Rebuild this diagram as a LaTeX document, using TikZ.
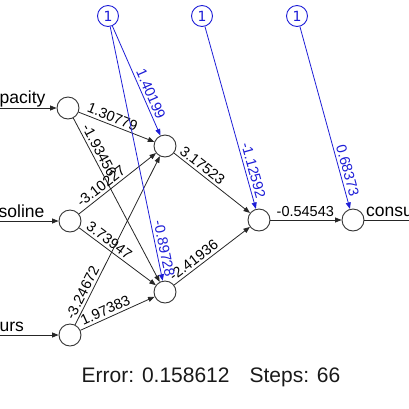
\documentclass[tikz,border=0pt]{standalone}
\usepackage{fontspec}
\setmainfont{Liberation Sans}
\newfontfamily\biasfont{DejaVu Sans}
\usetikzlibrary{arrows.meta, positioning}
\definecolor{biasBlue}{RGB}{30,30,215}

\begin{document}
\begin{tikzpicture}[x=1pt, y=-1pt,
    neuron/.style={circle, draw=black!80, line width=0.9pt, minimum size=22pt, inner sep=0pt},
    biasNode/.style={circle, draw=biasBlue, text=biasBlue, line width=0.9pt, minimum size=21pt, inner sep=0pt, font=\biasfont\fontsize{14}{14}\selectfont},
    weight/.style={-{Triangle[length=6.5pt, width=5pt]}, draw=black!85, line width=0.8pt},
    biasWeight/.style={-{Triangle[length=6.5pt, width=5pt]}, draw=biasBlue, line width=0.8pt},
    wlabel/.style={sloped, above, inner sep=2.5pt, font=\fontsize{14.5}{14.5}\selectfont},
    ioLabel/.style={anchor=base west, inner sep=0pt, font=\fontsize{17.5}{17.5}\selectfont}]
  \useasboundingbox (0,0) rectangle (409,408);
  \clip (0,0) rectangle (409,408);

  % neurons
  \node [neuron] (inCap) at (68,108) {};
  \node [neuron] (inGas) at (70,221) {};
  \node [neuron] (inHours) at (70,335) {};
  \node [neuron] (hidTop) at (165,146) {};
  \node [neuron] (hidBot) at (165,292) {};
  \node [neuron] (hidTwo) at (259,220) {};
  \node [neuron] (outNode) at (353,220) {};

  % bias units
  \node [biasNode] (biasOne) at (108,16) {1};
  \node [biasNode] (biasTwo) at (202,16) {1};
  \node [biasNode] (biasThree) at (297,16) {1};

  % inputs and output
  \coordinate (capStart) at (-5,108);
  \coordinate (gasStart) at (-5,221);
  \coordinate (hoursStart) at (-5,335);
  \coordinate (outEnd) at (420,220);
  \node [ioLabel] (capLabel) at (-19,103) {capacity};
  \node [ioLabel] (gasLabel) at (-21,217) {gasoline};
  \node [ioLabel] (hoursLabel) at (-20,331) {hours};
  \node [ioLabel] (outLabel) at (366,216) {consumption};
  \draw [weight] (capStart) -- (inCap);
  \draw [weight] (gasStart) -- (inGas);
  \draw [weight] (hoursStart) -- (inHours);
  \draw [line width=0.8pt, black!85] (outNode) -- (outEnd);

  % weights
  \draw [weight] (inCap) -- node [wlabel, pos=0.41] {1.30779} (hidTop);
  \draw [weight] (inCap) -- node [wlabel, pos=0.22] {-1.93456} (hidBot);
  \draw [weight] (inGas) -- node [wlabel, pos=0.35] {-3.10227} (hidTop);
  \draw [weight] (inGas) -- node [wlabel, pos=0.33] {3.73947} (hidBot);
  \draw [weight] (inHours) -- node [wlabel, pos=0.17] {-3.24672} (hidTop);
  \draw [weight] (inHours) -- node [wlabel, pos=0.38] {1.97383} (hidBot);
  \draw [weight] (hidTop) -- node [wlabel, pos=0.31] {3.17523} (hidTwo);
  \draw [weight] (hidBot) -- node [wlabel, pos=0.32] {-2.41936} (hidTwo);
  \draw [weight] (hidTwo) -- node [wlabel, pos=0.49] {-0.54543} (outNode);

  % bias weights
  \draw [biasWeight] (biasOne) -- node [wlabel, text=biasBlue, pos=0.65] {1.40199} (hidTop);
  \draw [biasWeight] (biasOne) -- node [wlabel, text=biasBlue, pos=0.88] {-0.89728} (hidBot);
  \draw [biasWeight] (biasTwo) -- node [wlabel, text=biasBlue, pos=0.80] {-1.12592} (hidTwo);
  \draw [biasWeight] (biasThree) -- node [wlabel, text=biasBlue, pos=0.80] {0.68373} (outNode);

  \node [anchor=base, font=\fontsize{21}{21}\selectfont, text=black!90] (errorLine) at (211,382) {Error: 0.158612\hspace{20pt}Steps: 66};
\end{tikzpicture}
\end{document}
